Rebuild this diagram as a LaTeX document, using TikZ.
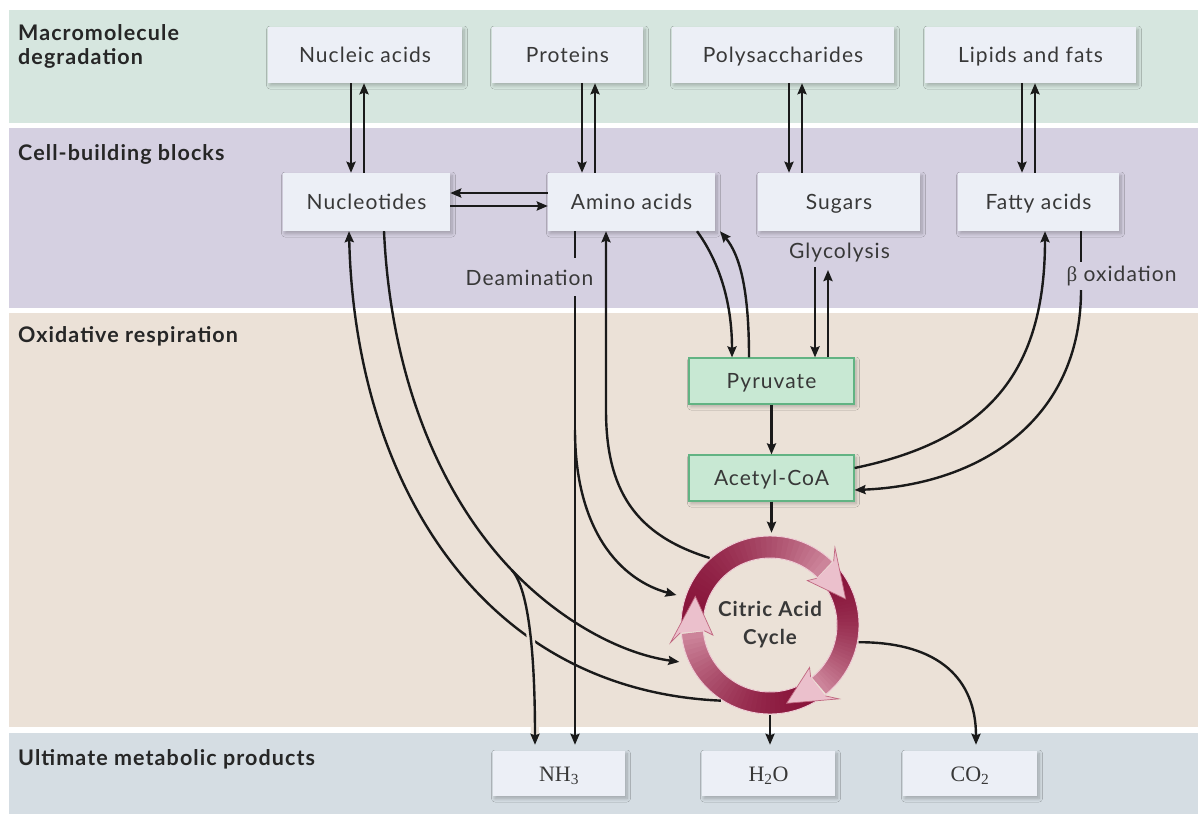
\documentclass[tikz,border=0pt]{standalone}
\usepackage{fontspec}
\setmainfont{Lato}[LetterSpace=5]
\newfontfamily\chemfont{Liberation Serif}
\usetikzlibrary{arrows.meta,shadows.blur}

\definecolor{bandgreen}{HTML}{D6E6DF}
\definecolor{bandpurple}{HTML}{D5D0E1}
\definecolor{bandbeige}{HTML}{EBE1D7}
\definecolor{bandgrey}{HTML}{D5DDE3}
\definecolor{boxfill}{HTML}{ECEFF6}
\definecolor{greenfill}{HTML}{C8E8D3}
\definecolor{greenline}{HTML}{62B383}
\definecolor{ink}{HTML}{1A1A1A}
\definecolor{boxink}{HTML}{383838}
\definecolor{sectink}{HTML}{262626}
\definecolor{ringdark}{HTML}{88143A}
\definecolor{ringlight}{HTML}{DDA0B2}
\definecolor{ringrim}{HTML}{EFCCD6}
\definecolor{headfill}{HTML}{EBC0CC}
\definecolor{headline}{HTML}{C06780}

\begin{document}
\begin{tikzpicture}[x=1pt,y=-1pt,
  every node/.style={inner sep=0pt},
  secttitle/.style={anchor=base west, font=\bfseries\fontsize{21.5}{24}\selectfont, text=sectink, align=left},
  softshadow/.style={blur shadow={shadow xshift=2pt, shadow yshift=-2.5pt, shadow blur radius=3.5pt, shadow blur steps=7, shadow opacity=25}},
  blockbox/.style={fill=boxfill, text=boxink, font=\fontsize{21}{23}\selectfont, text height=14.5pt, text depth=0pt, softshadow},
  topbox/.style={blockbox, minimum height=56pt},
  midbox/.style={blockbox, minimum height=58pt},
  greenbox/.style={fill=greenfill, draw=greenline, line width=1.1pt, text=boxink, minimum width=165pt, minimum height=46pt, font=\fontsize{21}{23}\selectfont, text height=14.5pt, text depth=0pt, softshadow},
  prodbox/.style={blockbox, minimum height=45pt, font=\chemfont\fontsize{22}{24}\selectfont, text height=15pt},
  steplabel/.style={anchor=base, font=\fontsize{21}{23}\selectfont, text=boxink},
  arr/.style={draw=ink, line width=2.4pt, -{Stealth[length=11pt,width=9pt,inset=1.5pt]}},
  link/.style={draw=ink, line width=2.4pt},
]
\useasboundingbox (0,0) rectangle (1198,814);
\fill[white] (0,0) rectangle (1198,814);

% horizontal bands
\fill[bandgreen]  (9,10)  rectangle (1198,123);
\fill[bandpurple] (9,128) rectangle (1198,308);
\fill[bandbeige]  (9,313) rectangle (1198,727);
\fill[bandgrey]   (9,733) rectangle (1198,814);

% band titles
\node[secttitle, anchor=north west] (tmacro) at (18,24.5) {Macromolecule\\degradation};
\node[secttitle] (tcell) at (18,160) {Cell-building blocks};
\node[secttitle] (toxid) at (18,342) {Oxidative respiration};
\node[secttitle] (tult)  at (18,765) {Ultimate metabolic products};

% macromolecules
\node[topbox, minimum width=194pt] (nucleic)  at (365,55)    {Nucleic acids};
\node[topbox, minimum width=151pt] (proteins) at (567.5,55)  {Proteins};
\node[topbox, minimum width=222pt] (polysac)  at (783,55)    {Polysaccharides};
\node[topbox, minimum width=211pt] (lipids)   at (1030.5,55) {Lipids and fats};

% building blocks
\node[midbox, minimum width=167pt] (nucleotides) at (366.5,202)  {Nucleotides};
\node[midbox, minimum width=167pt] (amino)       at (631.5,202)  {Amino acids};
\node[midbox, minimum width=162pt] (sugars)      at (839,202)    {Sugars};
\node[midbox, minimum width=161pt] (fatty)       at (1038.5,202) {Fatty acids};

% respiration intermediates
\node[greenbox] (pyruvate) at (771.5,381) {Pyruvate};
\node[greenbox] (acetyl)   at (771.5,478) {Acetyl-CoA};

% end products
\node[prodbox, minimum width=132pt] (nh3) at (559,773.5)   {NH\textsubscript{3}};
\node[prodbox, minimum width=133pt] (h2o) at (768.5,773.5) {H\textsubscript{2}O};
\node[prodbox, minimum width=134pt] (co2) at (970,773.5)   {CO\textsubscript{2}};

% pathway labels
\node[steplabel] (deam)   at (529.5,285.5) {Deamination};
\node[steplabel] (glyc)   at (839.5,258)   {Glycolysis};
\node[steplabel] (betaox) at (1121.5,281.5) {{\chemfont β} oxidation};

% citric acid cycle ring: three gradient arcs, each ending in a head
\begin{scope}[shift={(770,625)}, y=1pt]
  \foreach \segstart/\segend in {184/47, 44/-50, -53/-173}{
    \foreach \i in {0,...,35}{
      \pgfmathsetmacro\angA{\segstart+(\segend-\segstart)*\i/36}
      \pgfmathsetmacro\angB{\segstart+(\segend-\segstart)*(\i+1.4)/36}
      \pgfmathsetmacro\mixpc{100-80*(\i/35)^1.8}
      \draw[line width=22pt, draw=ringdark!\mixpc!ringlight] (\angA:78) arc[start angle=\angA, end angle=\angB, radius=78];
    }
  }
  \draw[ringrim, line width=0.9pt] (0,0) circle[radius=89];
  \draw[ringrim, line width=0.9pt] (0,0) circle[radius=67];
  \foreach \hbase/\htip in {47/19, -50/-78, 187/159}{
    \pgfmathsetmacro\notch{\hbase-2}
    \pgfmathsetmacro\barb{\hbase+3}
    \fill[headfill] (\notch:66) -- (\barb:58) -- (\htip:80) -- (\barb:101) -- (\notch:90) -- cycle;
    \draw[headline, line width=0.7pt, line join=miter]
      (\notch:66) -- (\barb:58) -- (\htip:80) -- (\barb:101) -- (\notch:90);
  }
\end{scope}
\node[circle, minimum size=180pt, align=center, text=boxink, font=\bfseries\fontsize{20.5}{28}\selectfont] (tca) at (770,625) {Citric Acid\\Cycle};

% macromolecules <-> building blocks
\draw[arr] ([xshift=-14pt]nucleic.south) -- ([xshift=-15.5pt]nucleotides.north);
\draw[arr] ([xshift=-2.5pt]nucleotides.north) -- ([xshift=-1pt]nucleic.south);
\draw[arr] ([xshift=14.5pt]proteins.south) -- ([xshift=-49.5pt]amino.north);
\draw[arr] ([xshift=-36.5pt]amino.north) -- ([xshift=27.5pt]proteins.south);
\draw[arr] ([xshift=6pt]polysac.south) -- ([xshift=-50pt]sugars.north);
\draw[arr] ([xshift=-37pt]sugars.north) -- ([xshift=19pt]polysac.south);
\draw[arr] ([xshift=-8.5pt]lipids.south) -- ([xshift=-16.5pt]fatty.north);
\draw[arr] ([xshift=-3.5pt]fatty.north) -- ([xshift=4.5pt]lipids.south);

% nucleotides <-> amino acids
\draw[arr] ([yshift=9pt]amino.west) -- ([yshift=9pt]nucleotides.east);
\draw[arr] ([yshift=-4pt]nucleotides.east) -- ([yshift=-4pt]amino.west);

% deamination
\coordinate (deamA) at (575,258);
\coordinate (deamB) at (575,296);
\coordinate (deamSplit) at (575,430);
\draw[link] ([xshift=-56.5pt]amino.south) -- (deamA);
\draw[arr, shorten >=6pt] (deamB) -- ([xshift=16pt]nh3.north);
\draw[arr, shorten >=8pt] (deamSplit) .. controls (575,530) and (620,580) .. (tca.162);

% cycle -> amino acids
\draw[arr] (tca.132) .. controls (635,535) and (606,490) .. (606,410) -- ([xshift=-25.5pt]amino.south);

% amino acids <-> pyruvate
\draw[arr] ([xshift=65.5pt]amino.south) .. controls (718,260) and (732,300) .. ([xshift=-39.5pt]pyruvate.north);
\draw[arr] ([xshift=-22.5pt]pyruvate.north) .. controls (749,290) and (740,255) .. ([xshift=88.5pt]amino.south);

% glycolysis
\coordinate (glycA) at (815,267);
\coordinate (glycB) at (828,270);
\draw[arr] (glycA) -- ([xshift=43.5pt]pyruvate.north);
\draw[arr] ([xshift=56.5pt]pyruvate.north) -- (glycB);

% fatty acids <-> acetyl-CoA
\coordinate (betaA) at (1081,262);
\coordinate (betaB) at (1081,290);
\draw[link] ([xshift=42.5pt]fatty.south) -- (betaA);
\draw[arr] (betaB) .. controls (1081,420) and (980,485) .. ([yshift=-12pt]acetyl.east);
\draw[arr] ([yshift=10pt]acetyl.east) .. controls (990,440) and (1045,370) .. ([xshift=6.5pt]fatty.south);

% central spine
\draw[arr] (pyruvate) -- (acetyl);
\draw[arr, shorten >=2pt] (acetyl.south) -- (acetyl.south |- tca.north);
\draw[arr, shorten >=6pt] (tca.south) -- (tca.south |- h2o.north);
\draw[arr, shorten >=6pt] (tca.-11) .. controls (940,642) and (976,680) .. ([xshift=6pt]co2.north);

% nucleotides <-> cycle and ammonia (the outgoing curve is split where the ammonia branch leaves it)
\coordinate (asplit) at (511.6,569.9);
\draw[arr] (tca.237) .. controls (480,690) and (355,480) .. ([xshift=-17.5pt]nucleotides.south);
\draw[arr, shorten >=6pt, preaction={draw=bandbeige, line width=8pt, shorten >=12pt, -}]
  (asplit) .. controls +(18,19) and (535,660) .. ([xshift=-24pt]nh3.north);
\draw[link] ([xshift=17.5pt]nucleotides.south) .. controls (390.6,374.4) and (438.2,493.0) .. (asplit);
\draw[arr, shorten >=9pt] (asplit) .. controls (560.6,621.1) and (621.0,653.8) .. (tca.205);
\end{tikzpicture}
\end{document}
